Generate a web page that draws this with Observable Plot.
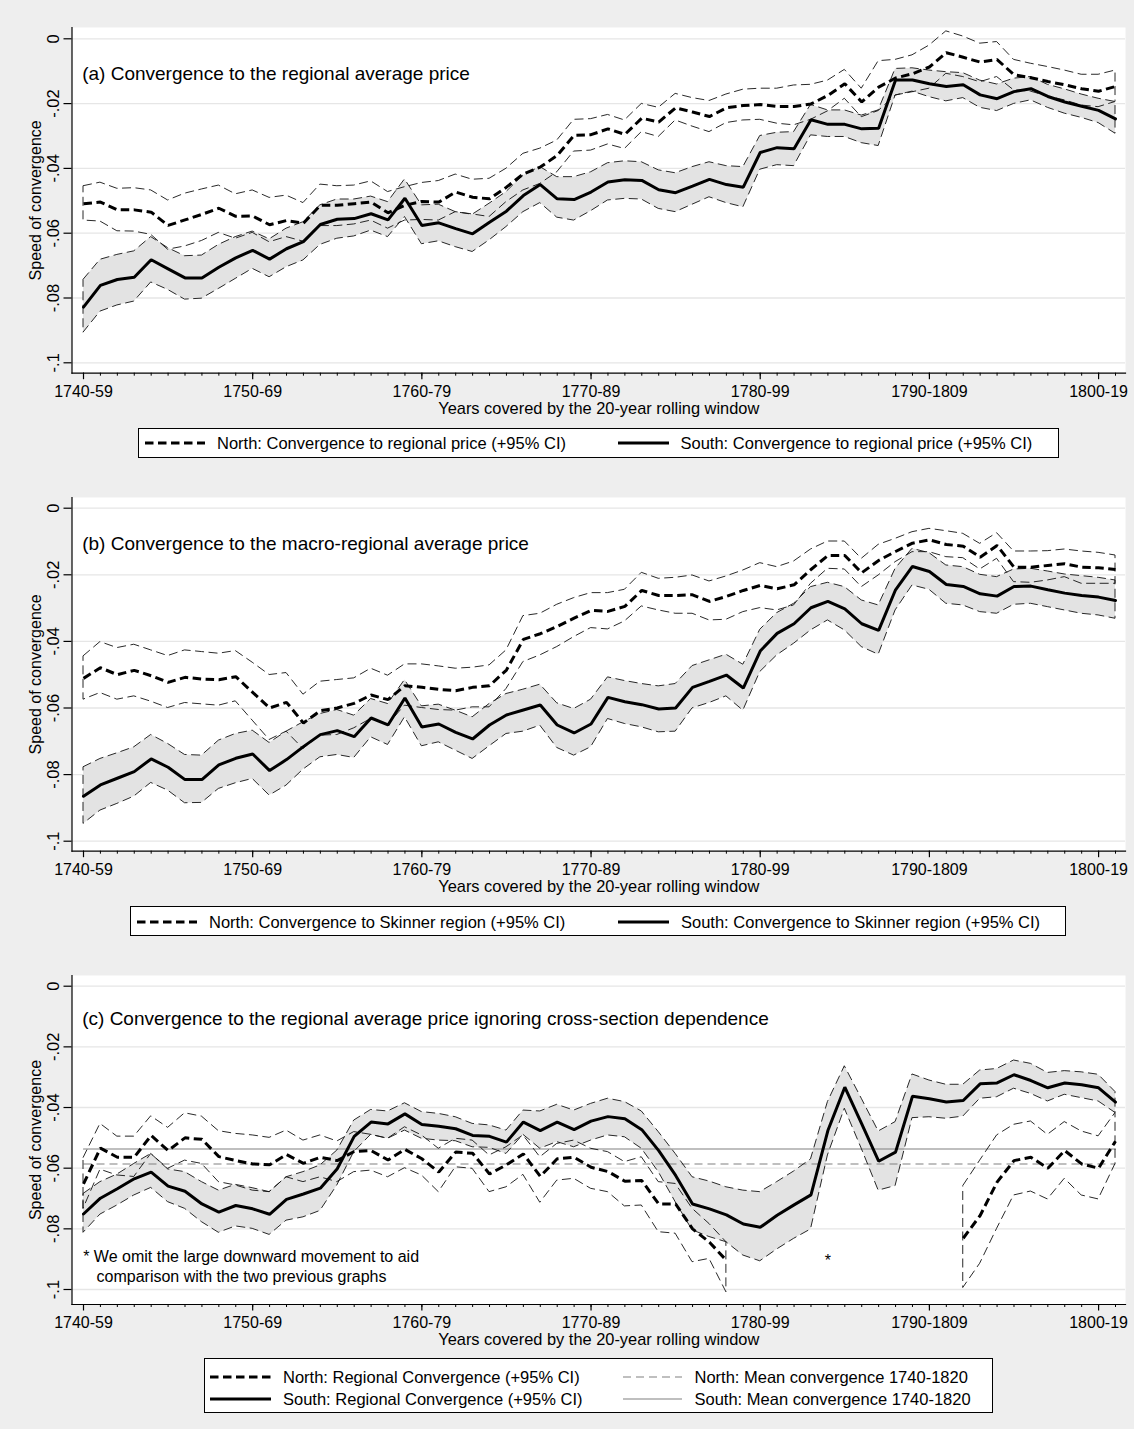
<!DOCTYPE html>
<html>
<head>
<meta charset="utf-8">
<script src="https://cdn.jsdelivr.net/npm/d3@7"></script>
<script src="https://cdn.jsdelivr.net/npm/@observablehq/plot@0.6"></script>
<style>
  html, body { margin: 0; padding: 0; background: #eeeeee; }
  #root { position: relative; width: 1134px; height: 1429px; background: #eeeeee; overflow: hidden;
          font-family: "Liberation Sans", Arial, Helvetica, sans-serif; color: #000; }
  .legend { position: absolute; background: #fff; border: 1px solid #000; box-sizing: border-box; }
  .legend span { position: absolute; white-space: nowrap; font-size: 16.5px; line-height: 1; transform: translateY(-50%); }
  .legend svg { position: absolute; overflow: visible; }
</style>
</head>
<body>
<div id="root"></div>
<script>
const FONT = '"Liberation Sans", Arial, Helvetica, sans-serif';

// ---- axes / categories ----
const years = d3.range(1740, 1802); // start year of each 20-year window
const majorYears = [1740, 1750, 1760, 1770, 1780, 1790, 1800];
const majorLabels = ["1740-59", "1750-69", "1760-79", "1770-89", "1780-99", "1790-1809", "1800-19"];
const yTicks = [0, -0.02, -0.04, -0.06, -0.08, -0.1];
const yTickLabels = ["0", "-.02", "-.04", "-.06", "-.08", "-.1"];

// ---- panel (a): regional average price ----
const aNorth = [
  -.0509,-.0504,-.0528,-.0528,-.0535,-.0576,-.0559,-.0542,-.0523,-.0548,
  -.0547,-.0574,-.0561,-.0569,-.0514,-.0514,-.0509,-.0504,-.0537,-.0514,
  -.0502,-.0504,-.0473,-.0489,-.0494,-.0458,-.0417,-.0396,-.0360,-.0298,
  -.0296,-.0278,-.0295,-.0245,-.0257,-.0213,-.0226,-.0240,-.0213,-.0206,
  -.0203,-.0209,-.0209,-.0201,-.0175,-.0139,-.0195,-.0149,-.0121,-.0108,
  -.0087,-.0043,-.0057,-.0072,-.0064,-.0111,-.0120,-.0132,-.0142,-.0154,
  -.0162,-.0147];
const aNorthHi = [
  -.0455,-.0444,-.0463,-.0461,-.0468,-.0499,-.0478,-.0465,-.0453,-.0480,
  -.0468,-.0491,-.0484,-.0507,-.0450,-.0455,-.0453,-.0440,-.0473,-.0458,
  -.0445,-.0439,-.0419,-.0435,-.0432,-.0401,-.0355,-.0339,-.0314,-.0250,
  -.0248,-.0235,-.0252,-.0201,-.0213,-.0170,-.0183,-.0192,-.0172,-.0157,
  -.0154,-.0154,-.0144,-.0142,-.0129,-.0096,-.0154,-.0069,-.0065,-.0051,
  -.0021, .0023, .0007,-.0015,-.0010,-.0065,-.0077,-.0087,-.0098,-.0111,
  -.0111,-.0098];
const aNorthLo = [
  -.0561,-.0564,-.0594,-.0595,-.0605,-.0651,-.0641,-.0624,-.0599,-.0617,
  -.0599,-.0628,-.0612,-.0626,-.0578,-.0578,-.0573,-.0561,-.0586,-.0561,
  -.0559,-.0561,-.0535,-.0542,-.0550,-.0504,-.0468,-.0448,-.0412,-.0348,
  -.0345,-.0326,-.0340,-.0288,-.0303,-.0252,-.0271,-.0288,-.0260,-.0252,
  -.0250,-.0262,-.0267,-.0250,-.0224,-.0185,-.0242,-.0223,-.0175,-.0165,
  -.0154,-.0108,-.0118,-.0134,-.0118,-.0159,-.0163,-.0178,-.0190,-.0206,
  -.0211,-.0195];
const aSouth = [
  -.0828,-.0761,-.0743,-.0736,-.0682,-.0710,-.0738,-.0738,-.0705,-.0676,
  -.0653,-.0680,-.0648,-.0626,-.0573,-.0557,-.0555,-.0540,-.0559,-.0492,
  -.0576,-.0568,-.0586,-.0602,-.0566,-.0532,-.0484,-.0450,-.0494,-.0496,
  -.0473,-.0442,-.0435,-.0437,-.0466,-.0475,-.0455,-.0434,-.0450,-.0458,
  -.0351,-.0336,-.0339,-.0250,-.0264,-.0264,-.0278,-.0276,-.0127,-.0127,
  -.0139,-.0147,-.0142,-.0173,-.0185,-.0163,-.0154,-.0178,-.0195,-.0208,
  -.0221,-.0247];
const aSouthHi = [
  -.0744,-.0682,-.0667,-.0656,-.0612,-.0646,-.0671,-.0669,-.0636,-.0612,
  -.0595,-.0619,-.0586,-.0566,-.0514,-.0496,-.0496,-.0487,-.0504,-.0434,
  -.0514,-.0512,-.0535,-.0543,-.0509,-.0473,-.0422,-.0396,-.0427,-.0427,
  -.0412,-.0384,-.0378,-.0381,-.0406,-.0415,-.0396,-.0381,-.0393,-.0396,
  -.0300,-.0290,-.0288,-.0204,-.0221,-.0221,-.0237,-.0221,-.0093,-.0091,
  -.0098,-.0103,-.0106,-.0129,-.0141,-.0123,-.0118,-.0142,-.0156,-.0172,
  -.0185,-.0195];
const aSouthLo = [
  -.0907,-.0842,-.0823,-.0811,-.0752,-.0775,-.0805,-.0802,-.0772,-.0741,
  -.0710,-.0736,-.0705,-.0684,-.0636,-.0617,-.0610,-.0592,-.0612,-.0550,
  -.0634,-.0625,-.0643,-.0658,-.0622,-.0581,-.0535,-.0507,-.0552,-.0561,
  -.0532,-.0499,-.0494,-.0496,-.0525,-.0535,-.0512,-.0489,-.0507,-.0520,
  -.0404,-.0390,-.0393,-.0298,-.0303,-.0303,-.0322,-.0331,-.0175,-.0163,
  -.0180,-.0193,-.0183,-.0213,-.0223,-.0201,-.0190,-.0213,-.0231,-.0244,
  -.0260,-.0293];

// ---- panel (b): macro-regional (Skinner) average price ----
const bNorth = [
  -.0511,-.0479,-.0500,-.0487,-.0503,-.0523,-.0508,-.0513,-.0515,-.0506,
  -.0553,-.0600,-.0583,-.0645,-.0608,-.0600,-.0586,-.0561,-.0575,-.0533,
  -.0538,-.0544,-.0548,-.0538,-.0533,-.0486,-.0394,-.0377,-.0355,-.0330,
  -.0307,-.0310,-.0295,-.0247,-.0262,-.0262,-.0260,-.0280,-.0265,-.0247,
  -.0232,-.0242,-.0230,-.0184,-.0142,-.0142,-.0194,-.0157,-.0130,-.0105,
  -.0095,-.0109,-.0114,-.0147,-.0112,-.0177,-.0177,-.0172,-.0167,-.0177,
  -.0179,-.0184];
const bNorthHi = [
  -.0445,-.0402,-.0420,-.0410,-.0427,-.0444,-.0427,-.0432,-.0437,-.0429,
  -.0464,-.0501,-.0495,-.0560,-.0521,-.0516,-.0511,-.0482,-.0503,-.0469,
  -.0469,-.0475,-.0482,-.0479,-.0472,-.0427,-.0324,-.0317,-.0290,-.0270,
  -.0255,-.0255,-.0245,-.0194,-.0212,-.0209,-.0202,-.0220,-.0205,-.0187,
  -.0165,-.0177,-.0160,-.0124,-.0100,-.0100,-.0152,-.0110,-.0092,-.0072,
  -.0062,-.0069,-.0077,-.0107,-.0075,-.0130,-.0130,-.0129,-.0124,-.0130,
  -.0134,-.0142];
const bNorthLo = [
  -.0575,-.0555,-.0575,-.0565,-.0581,-.0600,-.0585,-.0589,-.0593,-.0580,
  -.0638,-.0696,-.0671,-.0723,-.0683,-.0681,-.0661,-.0633,-.0651,-.0593,
  -.0600,-.0606,-.0608,-.0598,-.0598,-.0543,-.0462,-.0442,-.0417,-.0387,
  -.0360,-.0364,-.0340,-.0295,-.0307,-.0317,-.0317,-.0337,-.0335,-.0312,
  -.0300,-.0307,-.0292,-.0227,-.0182,-.0184,-.0237,-.0202,-.0162,-.0132,
  -.0132,-.0147,-.0150,-.0184,-.0152,-.0222,-.0224,-.0217,-.0207,-.0227,
  -.0227,-.0227];
const bSouth = [
  -.0865,-.0831,-.0811,-.0791,-.0753,-.0778,-.0815,-.0815,-.0771,-.0751,
  -.0738,-.0788,-.0755,-.0716,-.0680,-.0668,-.0686,-.0630,-.0651,-.0570,
  -.0657,-.0648,-.0673,-.0693,-.0651,-.0621,-.0606,-.0591,-.0651,-.0675,
  -.0648,-.0568,-.0581,-.0590,-.0603,-.0600,-.0538,-.0520,-.0501,-.0540,
  -.0429,-.0376,-.0347,-.0299,-.0280,-.0302,-.0347,-.0367,-.0245,-.0175,
  -.0190,-.0229,-.0235,-.0257,-.0264,-.0235,-.0234,-.0245,-.0255,-.0262,
  -.0267,-.0277];
const bSouthHi = [
  -.0778,-.0753,-.0736,-.0718,-.0681,-.0708,-.0741,-.0743,-.0698,-.0678,
  -.0668,-.0705,-.0671,-.0643,-.0618,-.0606,-.0623,-.0573,-.0588,-.0516,
  -.0595,-.0590,-.0608,-.0628,-.0588,-.0558,-.0545,-.0530,-.0586,-.0603,
  -.0575,-.0508,-.0519,-.0528,-.0535,-.0528,-.0474,-.0457,-.0440,-.0470,
  -.0365,-.0315,-.0287,-.0237,-.0224,-.0237,-.0277,-.0292,-.0182,-.0122,
  -.0135,-.0172,-.0177,-.0200,-.0207,-.0184,-.0182,-.0190,-.0199,-.0204,
  -.0209,-.0217];
const bSouthLo = [
  -.0948,-.0908,-.0888,-.0866,-.0825,-.0848,-.0886,-.0885,-.0843,-.0826,
  -.0813,-.0863,-.0833,-.0785,-.0748,-.0741,-.0750,-.0688,-.0711,-.0628,
  -.0715,-.0703,-.0728,-.0753,-.0715,-.0678,-.0671,-.0653,-.0720,-.0743,
  -.0718,-.0633,-.0648,-.0658,-.0673,-.0671,-.0601,-.0585,-.0565,-.0608,
  -.0492,-.0442,-.0407,-.0367,-.0337,-.0367,-.0417,-.0440,-.0307,-.0232,
  -.0245,-.0287,-.0292,-.0312,-.0317,-.0290,-.0287,-.0297,-.0307,-.0317,
  -.0322,-.0332];

// ---- panel (c): ignoring cross-section dependence (North omitted 1779-1791) ----
const cNorth = [
  -.0652,-.0534,-.0564,-.0564,-.0492,-.0542,-.0500,-.0505,-.0562,-.0575,
  -.0586,-.0589,-.0555,-.0584,-.0564,-.0575,-.0545,-.0542,-.0573,-.0538,
  -.0569,-.0613,-.0547,-.0551,-.0619,-.0589,-.0553,-.0627,-.0569,-.0564,
  -.0597,-.0611,-.0643,-.0641,-.0718,-.0718,-.0800,-.0844,-.0904,null,
  null,null,null,null,null,null,null,null,null,null,
  null,null,-.0831,-.0756,-.0646,-.0575,-.0564,-.0600,-.0542,-.0586,
  -.0600,-.0511];
const cNorthHi = [
  -.0567,-.0454,-.0496,-.0496,-.0429,-.0467,-.0419,-.0430,-.0478,-.0487,
  -.0492,-.0500,-.0476,-.0509,-.0492,-.0512,-.0481,-.0490,-.0503,-.0465,
  -.0492,-.0536,-.0503,-.0509,-.0558,-.0531,-.0492,-.0564,-.0520,-.0509,
  -.0536,-.0547,-.0580,-.0564,-.0646,-.0652,-.0734,-.0784,-.0844,null,
  null,null,null,null,null,null,null,null,null,null,
  null,null,-.0659,-.0575,-.0492,-.0457,-.0446,-.0490,-.0448,-.0479,
  -.0495,-.0418];
const cNorthLo = [
  -.0734,-.0605,-.0624,-.0629,-.0553,-.0602,-.0575,-.0586,-.0646,-.0657,
  -.0674,-.0679,-.0630,-.0646,-.0630,-.0646,-.0613,-.0608,-.0630,-.0600,
  -.0624,-.0679,-.0597,-.0602,-.0679,-.0663,-.0622,-.0714,-.0641,-.0635,
  -.0668,-.0679,-.0726,-.0723,-.0811,-.0816,-.0910,-.0899,-.1009,null,
  null,null,null,null,null,null,null,null,null,null,
  null,null,-.0995,-.0915,-.0800,-.0690,-.0677,-.0703,-.0635,-.0690,
  -.0703,-.0586];
const cSouth = [
  -.0751,-.0699,-.0668,-.0635,-.0613,-.0659,-.0676,-.0718,-.0745,-.0723,
  -.0734,-.0752,-.0703,-.0685,-.0666,-.0602,-.0495,-.0448,-.0454,-.0421,
  -.0456,-.0462,-.0470,-.0492,-.0495,-.0514,-.0448,-.0476,-.0448,-.0473,
  -.0445,-.0430,-.0437,-.0473,-.0542,-.0624,-.0718,-.0734,-.0754,-.0784,
  -.0795,-.0755,-.0721,-.0688,-.0476,-.0333,-.0454,-.0577,-.0547,-.0363,
  -.0371,-.0382,-.0377,-.0322,-.0319,-.0292,-.0311,-.0335,-.0319,-.0325,
  -.0335,-.0382];
const cSouthHi = [
  -.0685,-.0646,-.0621,-.0586,-.0553,-.0604,-.0613,-.0646,-.0674,-.0655,
  -.0666,-.0679,-.0630,-.0613,-.0591,-.0542,-.0443,-.0408,-.0413,-.0386,
  -.0415,-.0421,-.0432,-.0454,-.0459,-.0476,-.0410,-.0413,-.0391,-.0410,
  -.0388,-.0371,-.0382,-.0413,-.0481,-.0553,-.0630,-.0644,-.0663,-.0674,
  -.0679,-.0646,-.0611,-.0571,-.0382,-.0264,-.0371,-.0479,-.0448,-.0291,
  -.0311,-.0325,-.0325,-.0278,-.0273,-.0245,-.0256,-.0286,-.0280,-.0284,
  -.0292,-.0349];
const cSouthLo = [
  -.0813,-.0753,-.0723,-.0690,-.0665,-.0712,-.0734,-.0778,-.0813,-.0792,
  -.0800,-.0820,-.0773,-.0762,-.0741,-.0657,-.0547,-.0490,-.0503,-.0476,
  -.0503,-.0509,-.0511,-.0531,-.0533,-.0553,-.0490,-.0536,-.0514,-.0531,
  -.0509,-.0492,-.0498,-.0536,-.0613,-.0712,-.0805,-.0827,-.0844,-.0888,
  -.0907,-.0868,-.0833,-.0802,-.0558,-.0404,-.0536,-.0674,-.0659,-.0435,
  -.0432,-.0437,-.0430,-.0371,-.0366,-.0338,-.0355,-.0380,-.0358,-.0369,
  -.0380,-.0418];
const cNorthMean = -0.0586; // North: Mean convergence 1740-1820
const cSouthMean = -0.0537; // South: Mean convergence 1740-1820
const footnoteMark = [{year: 1784, value: -0.0893}];
const footnoteText = "* We omit the large downward movement to aid\n\u00a0\u00a0\u00a0comparison with the two previous graphs";

// ---- table built from the arrays ----
const rows = years.map((year, i) => ({
  year,
  aN: aNorth[i], aNLo: aNorthLo[i], aNHi: aNorthHi[i],
  aS: aSouth[i], aSLo: aSouthLo[i], aSHi: aSouthHi[i],
  bN: bNorth[i], bNLo: bNorthLo[i], bNHi: bNorthHi[i],
  bS: bSouth[i], bSLo: bSouthLo[i], bSHi: bSouthHi[i],
  cN: cNorth[i], cNLo: cNorthLo[i], cNHi: cNorthHi[i],
  cS: cSouth[i], cSLo: cSouthLo[i], cSHi: cSouthHi[i],
  cNMean: cNorthMean, cSMean: cSouthMean
}));

function panel(p) {
  const ci = {stroke: "#111", strokeWidth: 0.9, strokeDasharray: "9,4.5", strokeLinecap: "butt"};
  return Plot.plot({
    width: 1134,
    height: p.height,
    marginLeft: 71.5, marginRight: 9, marginTop: 7, marginBottom: p.marginBottom,
    x: {domain: [1740, 1801], range: [83, 1115]},
    y: {domain: [-0.1, 0], range: p.yRange},
    style: {background: "transparent", fontFamily: FONT, color: "#000", overflow: "visible"},
    marks: [
      Plot.frame({fill: "#fff", stroke: null}),
      Plot.gridY(yTicks, {stroke: "#e6e6e6", strokeOpacity: 1, strokeWidth: 1.3}),
      Plot.areaY(rows, {x: "year", y1: p.s + "Lo", y2: p.s + "Hi", fill: "#e3e3e3"}),
      ...(p.extra || []),
      Plot.areaY(rows, {x: "year", y1: p.n + "Lo", y2: p.n + "Hi", fill: "none", ...ci}),
      Plot.areaY(rows, {x: "year", y1: p.s + "Lo", y2: p.s + "Hi", fill: "none", ...ci}),
      Plot.line(rows, {x: "year", y: p.n, stroke: "#000", strokeWidth: 3, strokeDasharray: "8.5,4.5", strokeLinecap: "butt", strokeLinejoin: "miter"}),
      Plot.line(rows, {x: "year", y: p.s, stroke: "#000", strokeWidth: 3, strokeLinejoin: "miter"}),
      ...(p.annot || []),
      Plot.frame({anchor: "left", stroke: "#000", strokeWidth: 1.2}),
      Plot.frame({anchor: "bottom", stroke: "#000", strokeWidth: 1.2}),
      Plot.axisX(years, {tickSize: 3, tickFormat: () => "", label: null, strokeWidth: 1}),
      Plot.axisX(majorYears, {tickSize: 6.5, tickFormat: () => "", label: null, strokeWidth: 1.2}),
      Plot.text(majorYears, {x: d => d, text: (d, i) => majorLabels[i], frameAnchor: "bottom", lineAnchor: "middle", textAnchor: "middle", dy: 18.3, fontSize: 16}),
      Plot.text(["Years covered by the 20-year rolling window"], {frameAnchor: "bottom", lineAnchor: "middle", textAnchor: "middle", dy: 35.3, fontSize: 16.4}),
      Plot.axisY(yTicks, {tickSize: 8, tickFormat: () => "", label: null, strokeWidth: 1.2}),
      Plot.text(yTicks, {y: d => d, text: (d, i) => yTickLabels[i], frameAnchor: "left", textAnchor: "middle", lineAnchor: "middle", dx: -18.5, rotate: -90, fontSize: 16.5}),
      Plot.text(["Speed of convergence"], {frameAnchor: "left", textAnchor: "middle", lineAnchor: "middle", dx: -36.5, rotate: -90, fontSize: 16}),
      Plot.text([p.title], {frameAnchor: "top-left", dx: 10.2, dy: p.titleDy, textAnchor: "start", lineAnchor: "middle", fontSize: 19})
    ]
  });
}

const root = document.getElementById("root");

function place(svg, top) {
  svg.style.position = "absolute";
  svg.style.left = "0px";
  svg.style.top = top + "px";
  root.appendChild(svg);
}

place(panel({
  n: "aN", s: "aS", height: 400, marginBottom: 47.3, yRange: [342.3, 18.3], titleDy: 46.3,
  title: "(a) Convergence to the regional average price"
}), 20);

place(panel({
  n: "bN", s: "bS", height: 410, marginBottom: 49.3, yRange: [350.7, 17.7], titleDy: 46.3,
  title: "(b) Convergence to the macro-regional average price"
}), 490);

place(panel({
  n: "cN", s: "cS", height: 400, marginBottom: 64, yRange: [321, 17.7], titleDy: 43.3,
  title: "(c) Convergence to the regional average price ignoring cross-section dependence",
  extra: [
    Plot.line(rows, {x: "year", y: "cNMean", stroke: "#808080", strokeWidth: 1.1, strokeDasharray: "8,5", strokeLinecap: "butt"}),
    Plot.line(rows, {x: "year", y: "cSMean", stroke: "#808080", strokeWidth: 1.1})
  ],
  annot: [
    Plot.text([footnoteText], {frameAnchor: "bottom-left", dx: 11.2, dy: -39, textAnchor: "start", lineAnchor: "middle", lineHeight: 1.25, fontSize: 16}),
    Plot.text(footnoteMark, {x: "year", y: "value", text: () => "*", fontSize: 16, dy: 4})
  ]
}), 968);

// ---- legends (HTML below each plot) ----
function legend(box, items) {
  const div = document.createElement("div");
  div.className = "legend";
  Object.assign(div.style, {left: box.left + "px", top: box.top + "px", width: box.width + "px", height: box.height + "px"});
  for (const it of items) {
    const len = it.x1 - it.x0;
    const ns = "http://www.w3.org/2000/svg";
    const svg = document.createElementNS(ns, "svg");
    svg.setAttribute("width", len);
    svg.setAttribute("height", 10);
    svg.style.left = it.x0 + "px";
    svg.style.top = (it.y - 5) + "px";
    const line = document.createElementNS(ns, "line");
    line.setAttribute("x1", 0); line.setAttribute("x2", len);
    line.setAttribute("y1", 5); line.setAttribute("y2", 5);
    line.setAttribute("stroke", it.color);
    line.setAttribute("stroke-width", it.w);
    if (it.dash) line.setAttribute("stroke-dasharray", it.dash);
    svg.appendChild(line);
    div.appendChild(svg);
    const span = document.createElement("span");
    span.textContent = it.label;
    span.style.left = it.tx + "px";
    span.style.top = it.y + "px";
    div.appendChild(span);
  }
  root.appendChild(div);
}

legend({left: 137.5, top: 427.5, width: 921, height: 30}, [
  {x0: 6, x1: 66, y: 14.5, color: "#000", w: 3, dash: "8.5,4.5", tx: 78.5, label: "North: Convergence to regional price (+95% CI)"},
  {x0: 479, x1: 530, y: 14.5, color: "#000", w: 3, tx: 542, label: "South: Convergence to regional price (+95% CI)"}
]);

legend({left: 130, top: 906, width: 936, height: 30}, [
  {x0: 6, x1: 66, y: 14.5, color: "#000", w: 3, dash: "8.5,4.5", tx: 78, label: "North: Convergence to Skinner region (+95% CI)"},
  {x0: 487, x1: 538, y: 14.5, color: "#000", w: 3, tx: 550, label: "South: Convergence to Skinner region (+95% CI)"}
]);

legend({left: 203.5, top: 1358, width: 789.5, height: 54.5}, [
  {x0: 5.5, x1: 66.5, y: 17.5, color: "#000", w: 3, dash: "8.5,4.5", tx: 78.5, label: "North: Regional Convergence (+95% CI)"},
  {x0: 5.5, x1: 66.5, y: 39.5, color: "#000", w: 3, tx: 78.5, label: "South: Regional Convergence (+95% CI)"},
  {x0: 418.5, x1: 477.5, y: 17.5, color: "#808080", w: 1.1, dash: "8,5", tx: 490, label: "North: Mean convergence 1740-1820"},
  {x0: 418.5, x1: 477.5, y: 39.5, color: "#808080", w: 1.1, tx: 490, label: "South: Mean convergence 1740-1820"}
]);
</script>
</body>
</html>
